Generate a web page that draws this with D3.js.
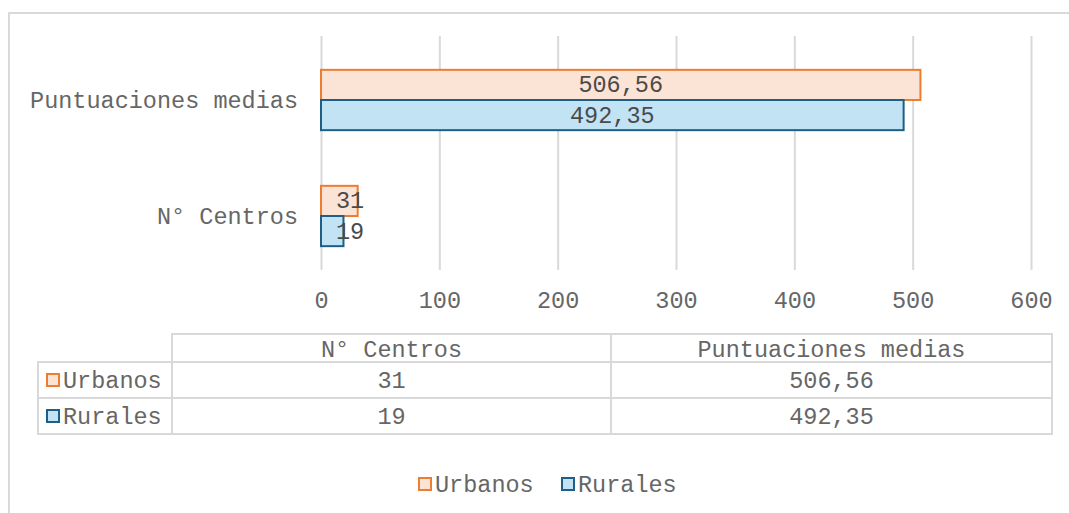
<!DOCTYPE html>
<html>
<head>
<meta charset="utf-8">
<script src="https://cdn.jsdelivr.net/npm/d3@7"></script>
<style>
  html, body { margin: 0; padding: 0; background: #fff; }
  svg { display: block; }
  text { font-family: "Liberation Mono", "Courier New", monospace; }
</style>
</head>
<body>
<svg id="chart" width="1069" height="513"></svg>
<script>
// Categories (top to bottom) and series values
const categories = ["Puntuaciones medias", "N° Centros"];
const seriesNames = ["Urbanos", "Rurales"];
const urbanos = [506.56, 31];
const rurales = [492.35, 19];
const valueLabels = { Urbanos: ["506,56", "31"], Rurales: ["492,35", "19"] };
const tableColumns = ["N° Centros", "Puntuaciones medias"];
const tableUrbanos = ["31", "506,56"];
const tableRurales = ["19", "492,35"];
const xTicks = [0, 100, 200, 300, 400, 500, 600];

const fills = { Urbanos: "#fbe3d6", Rurales: "#c2e3f4" };
const strokes = { Urbanos: "#ed7d31", Rurales: "#1d5f86" };
const textColor = "#666666";
const gridColor = "#d9d9d9";
const fontSize = 23.5;

const svg = d3.select("#chart");

// outer frame
svg.append("rect")
  .attr("x", 9).attr("y", 13).attr("width", 1200).attr("height", 700)
  .attr("fill", "none").attr("stroke", gridColor).attr("stroke-width", 2);

// plot area
const plot = { left: 321, right: 1031, top: 42, bottom: 274 };

const x = d3.scaleLinear().domain([0, 600]).range([plot.left, plot.right]);
const y = d3.scaleBand().domain(categories).range([plot.top, plot.bottom]).paddingInner(0.48).paddingOuter(0.24);
const ySub = d3.scaleBand().domain(seriesNames).range([0, y.bandwidth()]);

// gridlines + tick labels
const xAxis = d3.axisBottom(x).tickValues(xTicks).tickSize(-(plot.bottom - plot.top + 2)).tickFormat(d3.format("d"));
const gAxis = svg.append("g")
  .attr("transform", `translate(0,${plot.bottom - 4})`)
  .call(xAxis);
gAxis.select(".domain").remove();
gAxis.selectAll(".tick line").attr("stroke", gridColor).attr("stroke-width", 2);
gAxis.selectAll(".tick text")
  .attr("fill", textColor)
  .attr("font-size", fontSize)
  .attr("y", 30).attr("dy", "0.32em")
  .style("font-family", "'Liberation Mono', 'Courier New', monospace");

// category labels
svg.append("g").selectAll("text").data(categories).join("text")
  .attr("x", 298)
  .attr("y", d => y(d) + y.bandwidth() / 2)
  .attr("dy", "0.32em")
  .attr("text-anchor", "end")
  .attr("fill", textColor)
  .attr("font-size", fontSize)
  .text(d => d);

// bars
const rows = [];
categories.forEach((c, i) => {
  rows.push({ cat: c, series: "Urbanos", value: urbanos[i], label: valueLabels.Urbanos[i] });
  rows.push({ cat: c, series: "Rurales", value: rurales[i], label: valueLabels.Rurales[i] });
});

svg.append("g").selectAll("rect").data(rows).join("rect")
  .attr("x", x(0))
  .attr("y", d => y(d.cat) + ySub(d.series))
  .attr("width", d => x(d.value) - x(0))
  .attr("height", ySub.bandwidth())
  .attr("fill", d => fills[d.series])
  .attr("stroke", d => strokes[d.series])
  .attr("stroke-width", 2);

// value labels
svg.append("g").selectAll("text").data(rows).join("text")
  .attr("x", d => Math.max((x(0) + x(d.value)) / 2, x(0) + 29))
  .attr("y", d => y(d.cat) + ySub(d.series) + ySub.bandwidth() / 2)
  .attr("dy", "0.32em")
  .attr("text-anchor", "middle")
  .attr("fill", "#4a4a4a")
  .attr("font-size", fontSize)
  .text(d => d.label);

// data table
const tbl = { left: 38, keyRight: 172, colEdges: [172, 611, 1052], rowEdges: [334, 362, 398, 434] };
const tg = svg.append("g").attr("stroke", gridColor).attr("stroke-width", 2).attr("fill", "none");
// header row border
tg.append("rect").attr("x", tbl.colEdges[0]).attr("y", tbl.rowEdges[0])
  .attr("width", tbl.colEdges[2] - tbl.colEdges[0]).attr("height", tbl.rowEdges[1] - tbl.rowEdges[0]);
// body rows
tg.append("rect").attr("x", tbl.left).attr("y", tbl.rowEdges[1])
  .attr("width", tbl.colEdges[2] - tbl.left).attr("height", tbl.rowEdges[3] - tbl.rowEdges[1]);
tg.append("line").attr("x1", tbl.left).attr("x2", tbl.colEdges[2]).attr("y1", tbl.rowEdges[2]).attr("y2", tbl.rowEdges[2]);
tbl.colEdges.slice(0, 2).forEach(cx => {
  tg.append("line").attr("x1", cx).attr("x2", cx).attr("y1", tbl.rowEdges[0]).attr("y2", tbl.rowEdges[3]);
});

const colCenter = i => (tbl.colEdges[i] + tbl.colEdges[i + 1]) / 2;
const rowCenter = i => (tbl.rowEdges[i] + tbl.rowEdges[i + 1]) / 2;

svg.append("g").selectAll("text").data(tableColumns).join("text")
  .attr("x", (d, i) => colCenter(i)).attr("y", rowCenter(0) + 1).attr("dy", "0.32em")
  .attr("text-anchor", "middle").attr("fill", textColor).attr("font-size", fontSize)
  .text(d => d);

const tableRows = [
  { name: "Urbanos", cells: tableUrbanos },
  { name: "Rurales", cells: tableRurales }
];
tableRows.forEach((r, ri) => {
  const cy = rowCenter(ri + 1);
  svg.append("rect").attr("x", 47).attr("y", cy - 6).attr("width", 12).attr("height", 12)
    .attr("fill", fills[r.name]).attr("stroke", strokes[r.name]).attr("stroke-width", 2);
  svg.append("text").attr("x", 63).attr("y", cy).attr("dy", "0.32em")
    .attr("fill", textColor).attr("font-size", fontSize).text(r.name);
  r.cells.forEach((c, ci) => {
    svg.append("text").attr("x", colCenter(ci)).attr("y", cy).attr("dy", "0.32em")
      .attr("text-anchor", "middle").attr("fill", textColor).attr("font-size", fontSize).text(c);
  });
});

// legend
const legendY = 484;
const legendItems = [{ name: "Urbanos", x: 419 }, { name: "Rurales", x: 562 }];
const lg = svg.append("g");
legendItems.forEach(it => {
  lg.append("rect").attr("x", it.x).attr("y", legendY - 6).attr("width", 12).attr("height", 12)
    .attr("fill", fills[it.name]).attr("stroke", strokes[it.name]).attr("stroke-width", 2);
  lg.append("text").attr("x", it.x + 16).attr("y", legendY).attr("dy", "0.32em")
    .attr("fill", textColor).attr("font-size", fontSize).text(it.name);
});
</script>
</body>
</html>
